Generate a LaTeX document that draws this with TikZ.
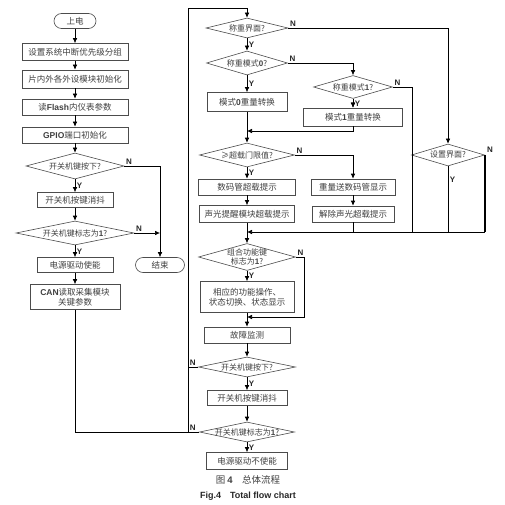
\documentclass[tikz,border=0pt]{standalone}
\usepackage{fontspec}
\setmainfont{Noto Sans CJK SC}
\newfontfamily\arialf{Liberation Sans}
\newcommand{\lat}[1]{{\arialf\bfseries #1}}
\usepackage{tikz}
\usetikzlibrary{shapes,positioning,arrows,arrows.meta}
\tikzset{
	yn/.style = {
		font=\arialf\bfseries\fontsize{8}{8}\selectfont, text=black!85, inner sep=1.5pt
	}
}

\begin{document}
\begin{tikzpicture}[
		x = 1pt, y = -1pt,
		>= {Latex[length=5pt,width=4.5pt]},
		line width = 0.6pt,
        box/.style = {rectangle, draw=black!70, fill=white, text=black!75, inner sep=1pt, font=\fontsize{8.5}{10}\selectfont},
        term/.style = {box, rounded corners=7.5pt},
        dec/.style = {diamond, draw=black!70, fill=white, text=black!75, inner sep=-1pt, font=\fontsize{8}{9}\selectfont},
        ->
    ]
    %\draw[step=10pt,gray,very thin] (0,0) grid (504,505);
    \useasboundingbox (0,0) rectangle (504,505);

    % left column
    \node[term, minimum width=42pt, minimum height=15pt] (1) at (75,21) {上电};
    \node[box, minimum width=106pt, minimum height=17pt] (2) at (75,52) {设置系统中断优先级分组};
    \node[box, minimum width=106pt, minimum height=18pt] (3) at (75,79) {片内外各外设模块初始化};
    \node[box, minimum width=106pt, minimum height=16pt] (4) at (75,107) {读\lat{Flash}内仪表参数};
    \node[box, minimum width=106pt, minimum height=16pt] (5) at (75,135) {\lat{GPIO}端口初始化};
    \node[dec, minimum width=98pt, minimum height=26pt, aspect=3.8] (6) at (75,166) {开关机键按下?};
    \node[box, minimum width=76pt, minimum height=15pt] (7) at (75,200) {开关机按键消抖};
    \node[dec, minimum width=118pt, minimum height=24pt, aspect=4.9] (8) at (75,233) {开关机键标志为\lat{1}?};
    \node[box, minimum width=76pt, minimum height=15pt] (9) at (75,265) {电源驱动使能};
    \node[box, minimum width=90pt, minimum height=25pt, align=center, inner sep=0pt] (10) at (75,297) {\lat{CAN}读取采集模块\\关键参数};
    \node[term, minimum width=49pt, minimum height=15pt] (11) at (160,265) {结束};

    % main loop
    \node[dec, minimum width=82pt, minimum height=20pt, aspect=4.1] (12) at (247,28) {称重界面?};
    \node[dec, minimum width=81pt, minimum height=24pt, aspect=3.4] (13) at (247,63) {称重模式\lat{0}?};
    \node[box, minimum width=80pt, minimum height=19pt] (14) at (247,102) {模式\lat{0}重量转换};
    \node[dec, minimum width=79pt, minimum height=23pt, aspect=3.4] (15) at (353,87) {称重模式\lat{1}?};
    \node[box, minimum width=99pt, minimum height=18pt] (16) at (353,117) {模式\lat{1}重量转换};
    \node[dec, minimum width=95pt, minimum height=24pt, aspect=4] (17) at (247,155) {≥超载门限值?};
    \node[box, minimum width=97pt, minimum height=16pt] (18) at (247,187) {数码管超载提示};
    \node[box, minimum width=95pt, minimum height=17pt] (19) at (247,214) {声光提醒模块超载提示};
    \node[box, minimum width=84pt, minimum height=16pt] (20) at (353,187) {重量送数码管显示};
    \node[box, minimum width=82pt, minimum height=16pt] (21) at (353,214) {解除声光超载提示};
    \node[dec, minimum width=73pt, minimum height=22pt, aspect=3.3] (22) at (448,155) {设置界面?};
    \node[dec, minimum width=97pt, minimum height=27pt, aspect=3.6, align=center] (23) at (247,257) {组合功能键\\标志为\lat{1}?};
    \node[box, minimum width=94pt, minimum height=31pt, align=center] (24) at (247,297) {相应的功能操作、\\状态切换、状态显示};
    \node[box, minimum width=86pt, minimum height=16pt] (25) at (247,335) {故障监测};
    \node[dec, minimum width=97pt, minimum height=20pt, aspect=4.8] (26) at (247,367) {开关机键按下?};
    \node[box, minimum width=80pt, minimum height=15pt] (27) at (247,398) {开关机按键消抖};
    \node[dec, minimum width=95pt, minimum height=20pt, aspect=4.8] (28) at (247,432) {开关机键标志为\lat{1}?};
    \node[box, minimum width=81pt, minimum height=17pt] (29) at (247,461) {电源驱动不使能};

    % caption
    \node[text=black!75, font=\fontsize{9.5}{10}\selectfont] (30) at (248,480) {图 \lat{4}\quad 总体流程};
    \node[text=black!85, font=\arialf\bfseries\fontsize{9}{10}\selectfont] (31) at (248,496) {Fig.4\quad Total flow chart};

    \coordinate (top) at (188,8);
    \coordinate (m1) at (247,131);
    \coordinate (m2) at (247,232);
    \coordinate (m3) at (247,317);
    \coordinate (j1) at (412,232);

    \foreach \a/\b in {1/2,2/3,3/4,4/5,5/6,7/8,9/10,14/17,15/16,18/19,20/21,19/23,24/25,25/26,27/28}
        \draw (\a) -- (\b);

    \draw (6) -- node[yn, right] {Y} (7);
    \draw (8) -- node[yn, right] {Y} (9);
    \draw (6.east) -| node[yn, above right, pos=0] {N} (11.north);
    \draw (8.east) -- node[yn, above right, pos=0] {N} (8.east -| 11.north);

    \draw[-] (10.south) |- (28.west -| top);
    \draw[-] (28.west) -- node[yn, above right, pos=1] {N} (28.west -| top);
    \draw[-] (26.west) -- node[yn, above right, pos=1] {N} (26.west -| top);
    \draw (28.west -| top) -- (top) -| (12.north);

    \draw (12) -- node[yn, right] {Y} (13);
    \draw (13) -- node[yn, right] {Y} (14);
    \draw (15) -- node[yn, right] {Y} (16);
    \draw (17) -- node[yn, right] {Y} (18);
    \draw (23) -- node[yn, right] {Y} (24);
    \draw (26) -- node[yn, right] {Y} (27);
    \draw (28) -- node[yn, right] {Y} (29);

    \draw (12.east) -| node[yn, above right, pos=0] {N} (22.north);
    \draw (13.east) -| node[yn, above right, pos=0] {N} (15.north);
    \draw[-] (15.east) -| node[yn, above right, pos=0] {N} (j1);
    \draw (16.south) |- (m1);
    \draw (17.east) -| node[yn, above right, pos=0] {N} (20.north);
    \draw[-] (21.south) -- (21.south |- m2);
    \draw[-] (22.south) -- node[yn, right, pos=0.2] {Y} (22.south |- m2);
    \draw[-, line width=1.4pt] (22.east) -- node[yn, above right, pos=0] {N} (22.east |- m2);
    \draw (22.east |- m2) -- (m2);
    \draw (23.east) -- node[yn, above right, pos=0] {N} ++(8,0) |- (m3);

\end{tikzpicture}
\end{document}
